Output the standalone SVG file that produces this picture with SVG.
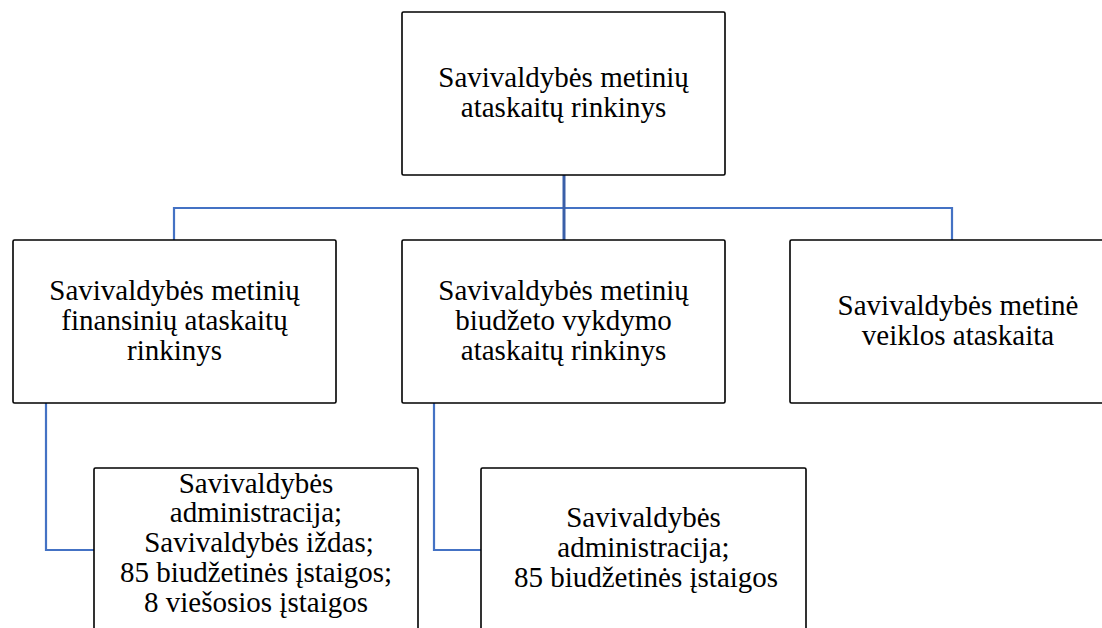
<svg xmlns="http://www.w3.org/2000/svg" width="1102" height="628" viewBox="0 0 1102 628">
<style>
.box{fill:#fff;stroke:#000;stroke-width:1.6}
.t{font-family:'Liberation Serif',Tinos,'Times New Roman','DejaVu Serif',serif;font-size:29px;fill:#000;text-anchor:middle}
.c{fill:none;stroke:#4472C4;stroke-width:2.2}
.ct{fill:none;stroke:#3A5FA8;stroke-width:3}
</style>
<rect width="1102" height="628" fill="#fff"/>
<g id="connectors">
<path class="c" d="M174 240 V208 H952 V240"/>
<path class="ct" d="M564 175 V240"/>
<path class="c" d="M46 403 V550 H94"/>
<path class="c" d="M434 403 V550 H481"/>
</g>
<g id="root">
<rect class="box" x="402" y="12" width="323" height="163" rx="1.5"/>
<text class="t" x="563.5" y="87">Savivaldybės metinių</text>
<text class="t" x="563.5" y="117">ataskaitų rinkinys</text>
</g>
<g id="fin">
<rect class="box" x="13" y="240" width="323" height="163" rx="1.5"/>
<text class="t" x="174.5" y="300">Savivaldybės metinių</text>
<text class="t" x="174.5" y="330">finansinių ataskaitų</text>
<text class="t" x="174.5" y="360">rinkinys</text>
</g>
<g id="biudz">
<rect class="box" x="402" y="240" width="323" height="163" rx="1.5"/>
<text class="t" x="563.5" y="300">Savivaldybės metinių</text>
<text class="t" x="563.5" y="330">biudžeto vykdymo</text>
<text class="t" x="563.5" y="360">ataskaitų rinkinys</text>
</g>
<g id="veikla">
<rect class="box" x="790" y="240" width="330" height="163" rx="1.5"/>
<text class="t" x="958" y="315">Savivaldybės metinė</text>
<text class="t" x="958" y="345">veiklos ataskaita</text>
</g>
<g id="fin-sub">
<rect class="box" x="94" y="468" width="324" height="180" rx="1.5"/>
<text class="t" x="256" y="493">Savivaldybės</text>
<text class="t" x="256" y="522">administracija;</text>
<text class="t" x="259" y="552">Savivaldybės iždas;</text>
<text class="t" x="256" y="582">85 biudžetinės įstaigos;</text>
<text class="t" x="256" y="612">8 viešosios įstaigos</text>
</g>
<g id="biudz-sub">
<rect class="box" x="481" y="468" width="325" height="180" rx="1.5"/>
<text class="t" x="643.5" y="527">Savivaldybės</text>
<text class="t" x="643.5" y="557">administracija;</text>
<text class="t" x="646" y="587">85 biudžetinės įstaigos</text>
</g>
</svg>
